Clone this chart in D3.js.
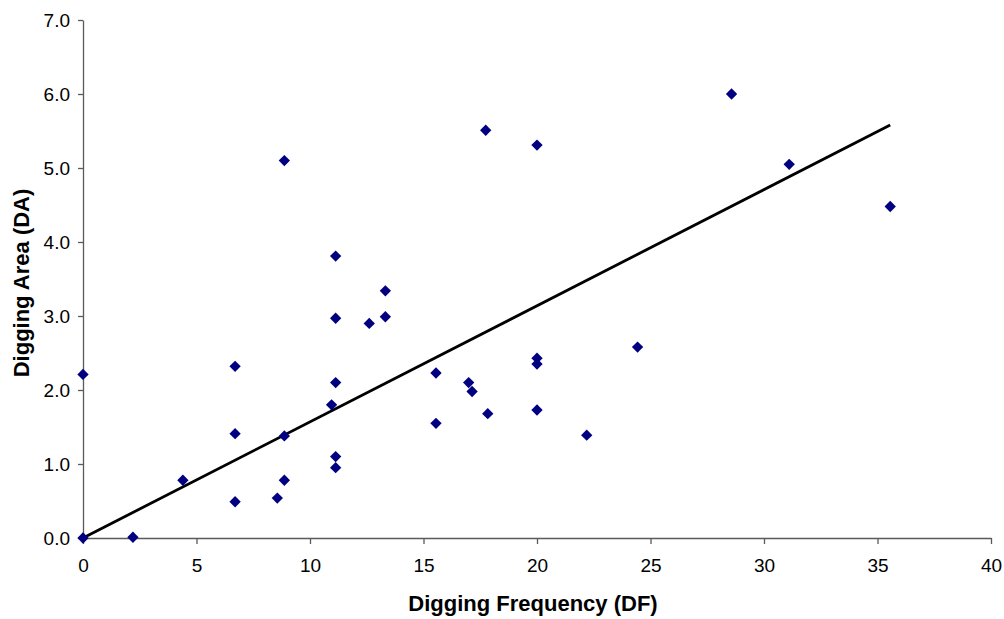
<!DOCTYPE html>
<html>
<head>
<meta charset="utf-8">
<script src="https://cdn.jsdelivr.net/npm/d3@7"></script>
<style>
  body { margin: 0; background: #fff; }
  text { font-family: "Liberation Sans", Arial, sans-serif; fill: #000; }
</style>
</head>
<body>
<svg id="chart" width="1004" height="619"></svg>
<script>
// Digging frequency (DF) vs digging area (DA)
const dfValues = [0, 0, 2.2, 4.4, 6.7, 6.7, 6.7, 8.56, 8.87, 8.87, 8.87, 10.95,
  11.13, 11.13, 11.13, 11.13, 11.13, 12.61, 13.32, 13.32, 15.55, 15.55, 16.99,
  17.14, 17.74, 17.83, 20, 20, 20, 20, 22.19, 24.43, 28.57, 31.11, 35.56]
const daValues = [0, 2.21, 0.01, 0.78, 2.32, 1.41, 0.49, 0.54, 5.1, 1.38, 0.78, 1.8,
  3.81, 2.97, 2.1, 1.1, 0.95, 2.9, 3.34, 2.99, 2.23, 1.55, 2.1,
  1.98, 5.51, 1.68, 5.31, 2.43, 2.35, 1.73, 1.39, 2.58, 6.0, 5.05, 4.48]

// linear trendline end points (through the origin)
const trendX = [0, 35.56]
const trendY = [0, 5.58]

const xTicks = [0, 5, 10, 15, 20, 25, 30, 35, 40]
const yTicks = [0, 1, 2, 3, 4, 5, 6, 7]

const svg = d3.select('#chart')
const margin = { left: 83, right: 13, top: 20, bottom: 81 }
const width = +svg.attr('width') - margin.left - margin.right
const height = +svg.attr('height') - margin.top - margin.bottom

const x = d3.scaleLinear().domain([0, 40]).range([0, width])
const y = d3.scaleLinear().domain([0, 7]).range([height, 0])

const g = svg.append('g').attr('transform', `translate(${margin.left},${margin.top})`)

const axisColor = '#5a5a5a'

// x axis
const xAxis = g.append('g')
  .attr('transform', `translate(0,${height})`)
  .call(d3.axisBottom(x).tickValues(xTicks).tickFormat(d3.format('d')).tickSize(6).tickSizeOuter(0))
xAxis.selectAll('.tick text')
  .attr('dy', 0).attr('y', 34)
  .style('font-size', '19px')
  .style('font-family', '"Liberation Sans", Arial, sans-serif')
  .style('fill', '#000')

// y axis
const yAxis = g.append('g')
  .call(d3.axisLeft(y).tickValues(yTicks).tickFormat(d3.format('.1f')).tickSize(5).tickSizeOuter(0))
yAxis.selectAll('.tick text')
  .attr('x', -13).attr('dy', '0.36em')
  .style('font-size', '19px')
  .style('font-family', '"Liberation Sans", Arial, sans-serif')
  .style('fill', '#000')

svg.selectAll('.domain, .tick line').attr('stroke', axisColor).attr('stroke-width', 1.3)

// trendline
const line = d3.line().x(d => x(d[0])).y(d => y(d[1]))
g.append('path')
  .datum(d3.zip(trendX, trendY))
  .attr('d', line)
  .attr('fill', 'none')
  .attr('stroke', '#000')
  .attr('stroke-width', 2.8)

// points - diamonds
const diamond = d3.symbol().type(d3.symbolSquare).size(64)
g.selectAll('.pt')
  .data(d3.zip(dfValues, daValues))
  .enter()
  .append('path')
  .attr('class', 'pt')
  .attr('d', diamond)
  .attr('transform', d => `translate(${x(d[0])},${y(d[1])}) rotate(45)`)
  .attr('fill', '#000080')

// axis titles
svg.append('text')
  .attr('x', margin.left + width / 2 - 4)
  .attr('y', 611)
  .attr('text-anchor', 'middle')
  .attr('font-size', 22)
  .attr('font-weight', 'bold')
  .text('Digging Frequency (DF)')

svg.append('text')
  .attr('transform', 'translate(29,283) rotate(-90)')
  .attr('text-anchor', 'middle')
  .attr('font-size', 22)
  .attr('font-weight', 'bold')
  .text('Digging Area (DA)')
</script>
</body>
</html>
